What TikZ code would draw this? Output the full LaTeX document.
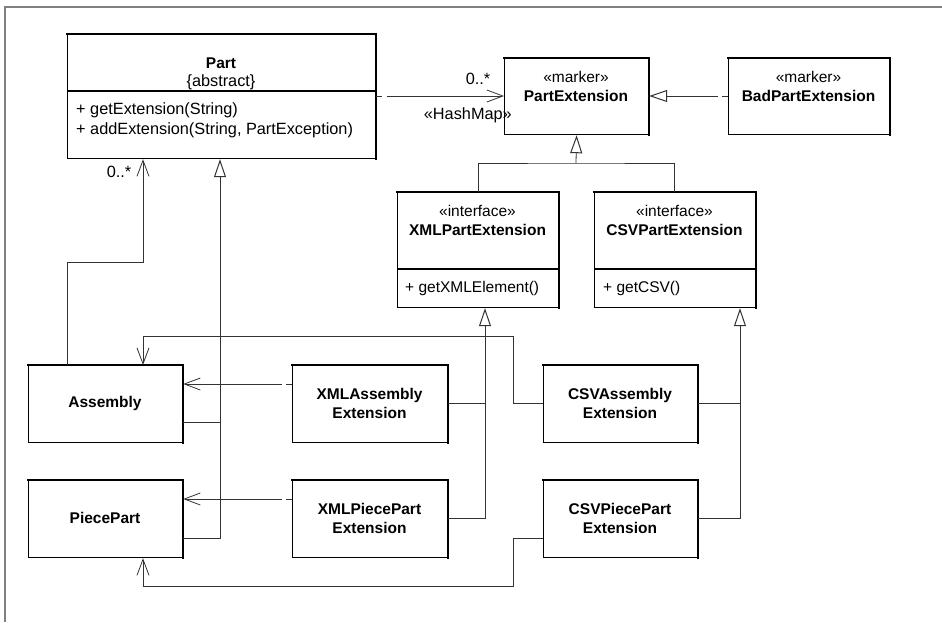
\documentclass[tikz,border=0pt]{standalone}
\usepackage{fontspec}
\setmainfont{Liberation Sans}
\usetikzlibrary{arrows.meta}
\begin{document}
\begin{tikzpicture}[x=1pt,y=-1pt,
  font=\fontsize{15.5}{19}\selectfont,
  classbox/.style={draw=black, line width=1.2pt, inner sep=0pt, anchor=north west},
  lbl/.style={inner sep=0pt, anchor=center},
  oplbl/.style={inner sep=0pt, anchor=west},
  bigtxt/.style={font=\fontsize{16.3}{19}\selectfont},
  conn/.style={draw=black!80, line width=0.8pt},
  dep/.style={conn, dash pattern=on 6pt off 4.5pt on 2000pt off 1pt},
  opentip/.style={-{Straight Barb[length=16pt,width=12pt,line width=0.8pt]}},
  gentip/.style={-{Triangle[open,length=18pt,width=12pt,line width=1pt,fill=white]}},
  frameline/.style={draw=black!50, line width=2pt}
]
\useasboundingbox (0,0) rectangle (942,622);

% outer frame
\coordinate (fc) at (5,7);
\draw[frameline] (5,622) -- (fc) -- (942,7);

% class boxes
\node[classbox, minimum width=308pt, minimum height=124pt] (part) at (67,34) {};
\node[classbox, minimum width=144pt, minimum height=76pt] (pext) at (504,58) {};
\node[classbox, minimum width=161pt, minimum height=76pt] (bad) at (728,58) {};
\node[classbox, minimum width=161pt, minimum height=115pt] (xmlp) at (397,192) {};
\node[classbox, minimum width=161pt, minimum height=115pt] (csvp) at (594,192) {};
\node[classbox, minimum width=154pt, minimum height=77pt] (asm) at (28,365) {};
\node[classbox, minimum width=154pt, minimum height=77pt] (pp) at (28,480) {};
\node[classbox, minimum width=155pt, minimum height=77pt] (xasm) at (292,365) {};
\node[classbox, minimum width=155pt, minimum height=77pt] (xpp) at (292,480) {};
\node[classbox, minimum width=154pt, minimum height=77pt] (casm) at (543,365) {};
\node[classbox, minimum width=154pt, minimum height=77pt] (cpp) at (543,480) {};

% heavier top and right edges of each box
\foreach \b in {part,pext,bad,xmlp,csvp,asm,pp,xasm,xpp,casm,cpp}
  \draw[line width=2pt, line cap=rect] (\b.north west) -- (\b.north east) -- (\b.south east);

% compartment dividers
\draw[line width=1.2pt] (part.west |- 0,91) -- (part.east |- 0,91);
\draw[line width=1.2pt] (xmlp.west |- 0,269) -- (xmlp.east |- 0,269);
\draw[line width=1.2pt] (csvp.west |- 0,269) -- (csvp.east |- 0,269);

% texts
\node[lbl] (t1) at (221,63) {\textbf{Part}};
\node[lbl, bigtxt] (t2) at (221,82) {\{abstract\}};
\node[oplbl, bigtxt] (t3) at (76,110) {+ getExtension(String)};
\node[oplbl, bigtxt] (t4) at (76,130) {+ addExtension(String, PartException)};

\node[lbl] (t5) at (576,77) {«marker»};
\node[lbl] (t6) at (576,96) {\textbf{PartExtension}};
\node[lbl] (t7) at (808.5,77) {«marker»};
\node[lbl] (t8) at (808.5,96) {\textbf{BadPartExtension}};

\node[lbl] (t9) at (477.5,211) {«interface»};
\node[lbl] (t10) at (477.5,230) {\textbf{XMLPartExtension}};
\node[oplbl] (t11) at (405,288) {+ getXMLElement()};
\node[lbl] (t12) at (674.5,211) {«interface»};
\node[lbl] (t13) at (674.5,230) {\textbf{CSVPartExtension}};
\node[oplbl] (t14) at (603,288) {+ getCSV()};

\node[lbl] (t15) at (105,403) {\textbf{Assembly}};
\node[lbl] (t16) at (105,518) {\textbf{PiecePart}};
\node[lbl, align=center] (t17) at (369.5,403) {\textbf{XMLAssembly}\\\textbf{Extension}};
\node[lbl, align=center] (t18) at (369.5,518) {\textbf{XMLPiecePart}\\\textbf{Extension}};
\node[lbl, align=center] (t19) at (620,403) {\textbf{CSVAssembly}\\\textbf{Extension}};
\node[lbl, align=center] (t20) at (620,518) {\textbf{CSVPiecePart}\\\textbf{Extension}};

% Part --> PartExtension (HashMap dependency)
\draw[dep, opentip] (part.east |- 0,96) -- (pext.west |- 0,96);
\node[lbl, bigtxt] (m1) at (478,79) {0..*};
\node[lbl, bigtxt, anchor=east] (m2) at (512,115) {«HashMap»};

% BadPartExtension realizes PartExtension
\draw[dep, gentip] (bad.west |- 0,96) -- (pext.east |- 0,96);

% XML/CSV interfaces extend PartExtension
\coordinate (pj) at (576,163);
\draw[conn] (xmlp.north -| 478,0) |- (pj) -| (csvp.north -| 674,0);
\draw[conn, gentip] (pj) -- (pext.south);

% Assembly --> Part association
\draw[conn, opentip] (asm.north -| 67,0) |- (143,262) -- (part.south -| 143,0);
\node[lbl, bigtxt] (m3) at (119,172) {0..*};

% Assembly and PiecePart extend Part
\draw[conn] (asm.east |- 0,422) -- (220,422);
\draw[conn, gentip] (pp.east |- 0,538) -| (part.south -| 220,0);

% XML extensions depend on the model classes
\draw[dep, opentip] (xasm.west |- 0,384) -- (asm.east |- 0,384);
\draw[dep, opentip] (xpp.west |- 0,499) -- (pp.east |- 0,499);

% XML extensions implement XMLPartExtension
\draw[conn] (xasm.east |- 0,403) -- (485,403);
\draw[conn, gentip] (xpp.east |- 0,518) -| (xmlp.south -| 485,0);

% CSV extensions implement CSVPartExtension
\draw[conn] (casm.east |- 0,403) -- (740,403);
\draw[conn, gentip] (cpp.east |- 0,518) -| (csvp.south -| 740,0);

% CSV extensions depend on the model classes
\draw[conn, opentip] (casm.west |- 0,403) -- (513,403) -- (513,336) -| (asm.north -| 143,0);
\draw[conn, opentip] (cpp.west |- 0,538) -- (513,538) -- (513,586) -| (pp.south -| 143,0);
\end{tikzpicture}
\end{document}
